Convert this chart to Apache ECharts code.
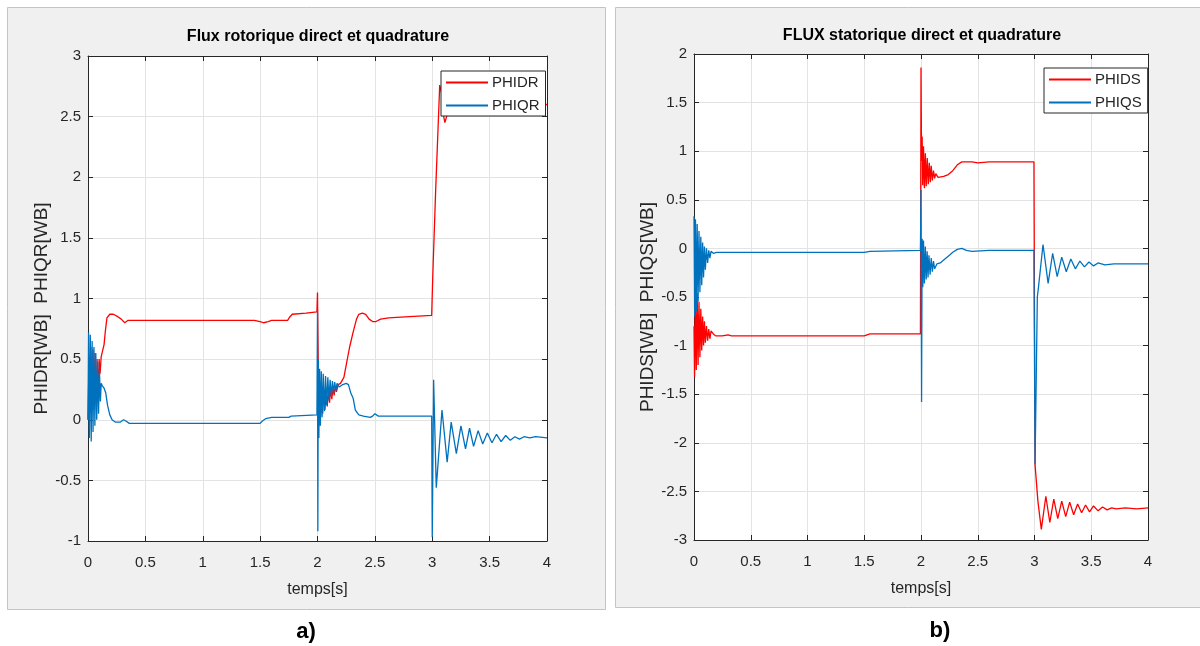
<!DOCTYPE html>
<html>
<head>
<meta charset="utf-8">
<script src="https://cdn.jsdelivr.net/npm/echarts@6/dist/echarts.min.js"></script>
<style>
html,body{margin:0;padding:0;background:#fff;}
#chart{width:1200px;height:646px;}
</style>
</head>
<body>
<div id="chart"></div>
<script>
// ---------- DATA ----------
const titleA = 'Flux rotorique direct et quadrature';
const titleB = 'FLUX statorique direct et quadrature';
const xName = 'temps[s]';
const yNameA = 'PHIDR[WB]  PHIQR[WB]';
const yNameB = 'PHIDS[WB]  PHIQS[WB]';
const seriesNamesA = ['PHIDR', 'PHIQR'];
const seriesNamesB = ['PHIDS', 'PHIQS'];
const xTicks = [0, 0.5, 1, 1.5, 2, 2.5, 3, 3.5, 4];
const yTicksA = [-1, -0.5, 0, 0.5, 1, 1.5, 2, 2.5, 3];
const yTicksB = [-3, -2.5, -2, -1.5, -1, -0.5, 0, 0.5, 1, 1.5, 2];

// PHIDR (rotor d-axis flux) [t, value]
const phidr = [
  [0,0],[0.008,0.45],[0.016,0.05],[0.025,0.6],[0.034,0.08],[0.043,0.58],[0.052,0.12],
  [0.061,0.55],[0.07,0.15],[0.079,0.5],[0.088,0.22],[0.097,0.5],[0.105,0.38],[0.115,0.52],
  [0.125,0.56],[0.14,0.62],[0.15,0.72],[0.165,0.84],[0.19,0.87],[0.22,0.87],[0.26,0.85],
  [0.29,0.83],[0.32,0.8],[0.35,0.82],[0.6,0.82],[1.0,0.82],[1.45,0.82],[1.5,0.81],[1.53,0.8],
  [1.57,0.81],[1.6,0.82],[1.74,0.82],[1.76,0.85],[1.78,0.87],[1.9,0.88],[1.995,0.89],
  [2.0,1.05],[2.005,0.6],[2.01,0.05],[2.015,0.2],[2.025,0.02],[2.035,0.22],[2.045,0.05],
  [2.055,0.23],[2.065,0.08],[2.075,0.24],[2.085,0.11],[2.095,0.25],[2.105,0.14],[2.115,0.26],
  [2.125,0.17],[2.135,0.27],[2.145,0.2],[2.155,0.28],[2.165,0.23],[2.18,0.29],[2.2,0.3],
  [2.23,0.35],[2.25,0.45],[2.28,0.6],[2.31,0.72],[2.34,0.83],[2.36,0.87],[2.39,0.88],
  [2.42,0.87],[2.45,0.83],[2.48,0.81],[2.51,0.81],[2.55,0.83],[2.62,0.84],[2.8,0.85],
  [2.995,0.86],[3.005,1.2],[3.03,1.9],[3.065,2.76],[3.08,2.7],[3.1,2.5],[3.11,2.45],
  [3.14,2.55],[3.2,2.6],[3.3,2.6],[4,2.6]
];
// PHIQR (rotor q-axis flux)
const phiqr = [
  [0,0.0],[0.005,0.72],[0.012,-0.15],[0.02,0.7],[0.028,-0.18],[0.036,0.65],[0.044,-0.1],
  [0.052,0.6],[0.06,-0.05],[0.068,0.55],[0.076,0.0],[0.084,0.48],[0.092,0.05],[0.1,0.4],
  [0.108,0.15],[0.115,0.3],[0.125,0.28],[0.14,0.26],[0.155,0.22],[0.17,0.12],[0.19,0.04],
  [0.21,0.0],[0.24,-0.02],[0.28,-0.02],[0.31,0.0],[0.33,-0.01],[0.36,-0.03],[1.0,-0.03],
  [1.5,-0.03],[1.52,-0.01],[1.55,0.01],[1.6,0.02],[1.75,0.02],[1.77,0.03],[1.995,0.04],
  [2.0,0.9],[2.003,-0.92],[2.007,0.5],[2.012,-0.15],[2.018,0.42],[2.025,-0.05],[2.033,0.4],
  [2.04,0.02],[2.05,0.38],[2.06,0.07],[2.07,0.36],[2.08,0.12],[2.09,0.35],[2.1,0.16],
  [2.11,0.33],[2.12,0.19],[2.13,0.32],[2.14,0.22],[2.15,0.31],[2.16,0.24],[2.17,0.3],
  [2.19,0.27],[2.22,0.29],[2.25,0.3],[2.27,0.29],[2.29,0.22],[2.31,0.18],[2.33,0.08],
  [2.36,0.04],[2.4,0.03],[2.46,0.02],[2.48,0.03],[2.5,0.05],[2.53,0.03],[2.6,0.03],
  [2.995,0.03],[3.0,-0.97],[3.012,0.33],[3.035,-0.56],[3.085,0.08],[3.13,-0.35],[3.165,-0.02],
  [3.21,-0.28],[3.25,-0.05],[3.29,-0.24],[3.325,-0.07],[3.36,-0.22],[3.4,-0.09],[3.44,-0.2],
  [3.48,-0.11],[3.52,-0.19],[3.56,-0.12],[3.6,-0.18],[3.64,-0.13],[3.68,-0.17],[3.72,-0.14],
  [3.76,-0.16],[3.8,-0.14],[3.85,-0.15],[3.9,-0.14],[4,-0.15]
];
// PHIDS (stator d-axis flux)
const phids = [
  [0,-0.8],[0.005,-1.32],[0.012,-0.5],[0.02,-1.25],[0.028,-0.46],[0.036,-1.2],[0.044,-0.55],
  [0.052,-1.12],[0.06,-0.62],[0.068,-1.05],[0.076,-0.7],[0.084,-1.0],[0.092,-0.75],[0.1,-0.97],
  [0.11,-0.8],[0.12,-0.95],[0.13,-0.83],[0.14,-0.93],[0.15,-0.85],[0.17,-0.88],[0.19,-0.9],
  [0.25,-0.9],[0.3,-0.89],[0.33,-0.9],[1.0,-0.9],[1.5,-0.9],[1.55,-0.88],[1.995,-0.88],
  [2.0,1.86],[2.005,0.9],[2.01,1.15],[2.015,0.65],[2.022,1.05],[2.03,0.62],[2.038,0.98],
  [2.046,0.64],[2.055,0.93],[2.064,0.66],[2.073,0.88],[2.082,0.68],[2.09,0.85],[2.1,0.7],
  [2.11,0.8],[2.12,0.72],[2.13,0.77],[2.15,0.73],[2.2,0.74],[2.24,0.76],[2.28,0.8],
  [2.32,0.86],[2.36,0.89],[2.45,0.89],[2.5,0.88],[2.6,0.89],[2.995,0.89],[3.005,-2.23],
  [3.03,-2.6],[3.06,-2.89],[3.1,-2.55],[3.135,-2.82],[3.17,-2.58],[3.205,-2.78],[3.24,-2.6],
  [3.275,-2.76],[3.31,-2.61],[3.345,-2.74],[3.38,-2.63],[3.415,-2.72],[3.45,-2.64],
  [3.485,-2.71],[3.52,-2.65],[3.56,-2.7],[3.6,-2.66],[3.64,-2.69],[3.68,-2.67],[3.72,-2.68],
  [3.8,-2.67],[3.9,-2.68],[4,-2.67]
];
// PHIQS (stator q-axis flux)
const phiqs = [
  [0,0.33],[0.006,-0.7],[0.013,0.3],[0.02,-0.65],[0.028,0.25],[0.036,-0.55],[0.044,0.18],
  [0.052,-0.45],[0.06,0.12],[0.068,-0.38],[0.076,0.06],[0.084,-0.3],[0.092,0.02],[0.1,-0.22],
  [0.11,0.0],[0.12,-0.15],[0.13,-0.02],[0.14,-0.1],[0.15,-0.03],[0.17,-0.05],[0.2,-0.04],
  [0.25,-0.04],[1.0,-0.04],[1.5,-0.04],[1.55,-0.03],[1.995,-0.02],[2.0,0.6],[2.005,-1.58],
  [2.01,0.1],[2.016,-0.4],[2.022,0.08],[2.03,-0.36],[2.038,0.02],[2.046,-0.32],[2.054,-0.03],
  [2.062,-0.3],[2.07,-0.07],[2.08,-0.27],[2.09,-0.1],[2.1,-0.24],[2.11,-0.13],[2.12,-0.21],
  [2.14,-0.16],[2.17,-0.15],[2.2,-0.12],[2.24,-0.08],[2.28,-0.04],[2.32,-0.01],[2.36,0.0],
  [2.4,-0.02],[2.45,-0.03],[2.6,-0.02],[2.995,-0.02],[3.005,-2.22],[3.025,-0.5],[3.035,-0.4],
  [3.075,0.04],[3.12,-0.36],[3.16,-0.05],[3.2,-0.29],[3.24,-0.09],[3.28,-0.24],[3.32,-0.11],
  [3.36,-0.21],[3.4,-0.13],[3.44,-0.19],[3.48,-0.14],[3.52,-0.18],[3.56,-0.15],[3.62,-0.17],
  [3.7,-0.16],[4,-0.16]
];

// ---------- STYLE / LAYOUT ----------
const FONT = "'Liberation Sans Narrow', 'Arial Narrow', 'Liberation Sans', Arial, sans-serif";
const TXT = '#262626';
const RED = '#ff0000';
const BLUE = '#0072bd';

function xAxisPair(gridIndex) {
  const base = {
    type: 'value', gridIndex: gridIndex,
    min: xTicks[0], max: xTicks[xTicks.length - 1], interval: xTicks[1] - xTicks[0],
    axisLine: { show: true, onZero: false, lineStyle: { color: TXT, width: 1 } },
    axisTick: { show: true, inside: true, length: 5, lineStyle: { color: TXT } }
  };
  return [
    Object.assign({}, base, {
      position: 'bottom',
      name: xName, nameLocation: 'middle', nameGap: 41,
      nameTextStyle: { fontFamily: FONT, fontSize: 16, color: TXT },
      axisLabel: { fontFamily: FONT, fontSize: 15, color: TXT, margin: 14 },
      splitLine: { show: true, lineStyle: { color: '#e3e3e3', width: 1 } }
    }),
    Object.assign({}, base, {
      position: 'top', axisLabel: { show: false }, splitLine: { show: false }
    })
  ];
}
function yAxisPair(gridIndex, ticks, name, gap) {
  const base = {
    type: 'value', gridIndex: gridIndex,
    min: ticks[0], max: ticks[ticks.length - 1], interval: ticks[1] - ticks[0],
    axisLine: { show: true, onZero: false, lineStyle: { color: TXT, width: 1 } },
    axisTick: { show: true, inside: true, length: 5, lineStyle: { color: TXT } }
  };
  return [
    Object.assign({}, base, {
      position: 'left',
      name: name, nameLocation: 'middle', nameGap: gap, nameRotate: 90,
      nameTextStyle: { fontFamily: "'Liberation Sans', Arial, sans-serif", fontSize: 19, color: TXT,
        padding: [0, 20, 0, 0] },
      axisLabel: { fontFamily: FONT, fontSize: 15, color: TXT, margin: 7 },
      splitLine: { show: true, lineStyle: { color: '#e3e3e3', width: 1 } }
    }),
    Object.assign({}, base, {
      position: 'right', axisLabel: { show: false }, splitLine: { show: false }
    })
  ];
}

const xAxes = xAxisPair(0).concat(xAxisPair(1));
const yAxes = yAxisPair(0, yTicksA, yNameA, 30).concat(yAxisPair(1, yTicksB, yNameB, 32));

function lineSeries(name, data, color, xi, yi) {
  return {
    type: 'line', name: name, data: data, xAxisIndex: xi, yAxisIndex: yi,
    showSymbol: false, symbol: 'none', smooth: false, animation: false,
    lineStyle: { color: color, width: 1.3 }, itemStyle: { color: color }, clip: true
  };
}

const legendBase = {
  orient: 'vertical', backgroundColor: '#ffffff', borderColor: TXT, borderWidth: 1,
  padding: [4, 6, 3, 5], itemGap: 8, itemWidth: 42, itemHeight: 2,
  icon: 'rect',
  textStyle: { fontFamily: FONT, fontSize: 15, color: TXT, padding: [0, 0, 0, -1] }
};

const chart = echarts.init(document.getElementById('chart'), null, { renderer: 'canvas' });
chart.setOption({
  animation: false,
  backgroundColor: '#ffffff',
  title: [
    { text: titleA, left: 318, top: 29, textAlign: 'center', padding: 0,
      textStyle: { fontFamily: FONT, fontSize: 16, fontWeight: 'bold', color: '#000' } },
    { text: titleB, left: 922, top: 28, textAlign: 'center', padding: 0,
      textStyle: { fontFamily: FONT, fontSize: 16, fontWeight: 'bold', color: '#000' } }
  ],
  graphic: [
    { type: 'rect', z: -100, shape: { x: 7.5, y: 7.5, width: 598, height: 602 },
      style: { fill: '#f0f0f0', stroke: '#c4c4c4', lineWidth: 1 } },
    { type: 'rect', z: -100, shape: { x: 615.5, y: 7.5, width: 590, height: 600 },
      style: { fill: '#f0f0f0', stroke: '#c4c4c4', lineWidth: 1 } },
    { type: 'text', x: 306, y: 632, style: { text: 'a)', fontFamily: "'Liberation Sans', Arial, sans-serif",
      fontSize: 22, fontWeight: 'bold', fill: '#000', align: 'center', verticalAlign: 'middle' } },
    { type: 'text', x: 940, y: 631, style: { text: 'b)', fontFamily: "'Liberation Sans', Arial, sans-serif",
      fontSize: 22, fontWeight: 'bold', fill: '#000', align: 'center', verticalAlign: 'middle' } }
  ],
  grid: [
    { left: 88, top: 56, width: 459, height: 485, show: true, backgroundColor: '#ffffff', borderWidth: 0 },
    { left: 694, top: 54, width: 454, height: 486, show: true, backgroundColor: '#ffffff', borderWidth: 0 }
  ],
  legend: [
    Object.assign({}, legendBase, { left: 441, top: 71, data: seriesNamesA }),
    Object.assign({}, legendBase, { left: 1044, top: 68, data: seriesNamesB })
  ],
  xAxis: xAxes,
  yAxis: yAxes,
  series: [
    lineSeries(seriesNamesA[0], phidr, RED, 0, 0),
    lineSeries(seriesNamesA[1], phiqr, BLUE, 0, 0),
    lineSeries(seriesNamesB[0], phids, RED, 2, 2),
    lineSeries(seriesNamesB[1], phiqs, BLUE, 2, 2)
  ]
});
</script>
</body>
</html>
